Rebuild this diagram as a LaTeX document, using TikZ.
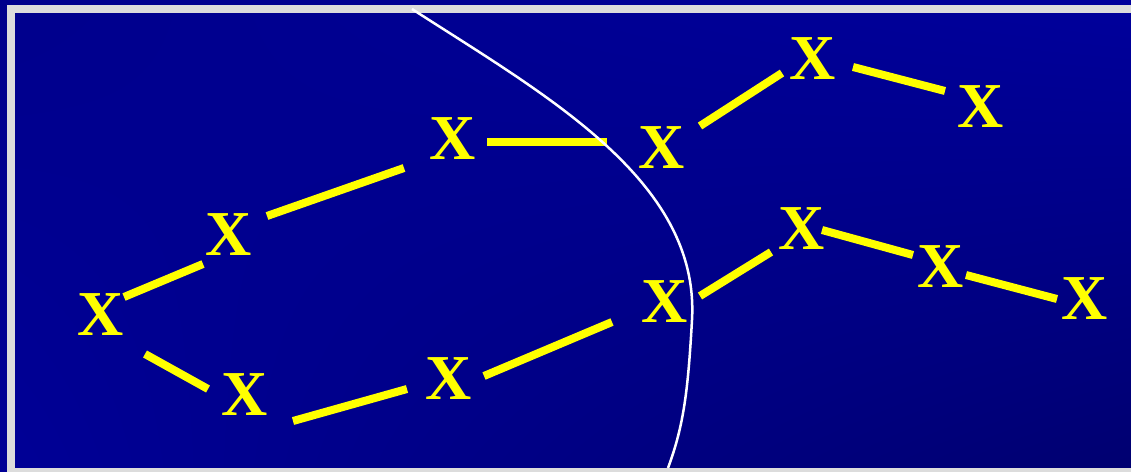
\documentclass[tikz,border=0pt]{standalone}
\usepackage{fontspec}
\setmainfont{Liberation Serif}
\usetikzlibrary{calc,shadings}
\definecolor{bgA}{RGB}{0,0,140}
\definecolor{bgB}{RGB}{0,0,156}
\definecolor{bgC}{RGB}{0,0,150}
\definecolor{bgD}{RGB}{0,0,112}
\definecolor{framegrey}{RGB}{220,220,220}
\definecolor{xyellow}{RGB}{255,255,0}
\tikzset{
  xnode/.style={text=xyellow, font=\fontsize{64}{64}\selectfont\bfseries, inner sep=0pt},
  link/.style={draw=xyellow, line width=8pt},
  border/.style={framegrey, line width=8pt},
  cut/.style={white, line width=2.5pt}
}
\begin{document}
\begin{tikzpicture}[x=1pt,y=-1pt]
\useasboundingbox (0,0) rectangle (1131,471);
\shade[upper left=bgA, upper right=bgB, lower left=bgC, lower right=bgD] (0,0) rectangle (1131,471);
\draw[border] (11,9) rectangle (1145,472);

\node[xnode] (x1) at (101,315) {X};
\node[xnode] (x2) at (229,235) {X};
\node[xnode] (x3) at (453,139) {X};
\node[xnode] (x4) at (662,148) {X};
\node[xnode] (x5) at (813,58.5) {X};
\node[xnode] (x6) at (981,106.5) {X};
\node[xnode] (x7) at (245,395) {X};
\node[xnode] (x8) at (449,379) {X};
\node[xnode] (x9) at (665,302) {X};
\node[xnode] (x10) at (801.5,228.5) {X};
\node[xnode] (x11) at (941,267) {X};
\node[xnode] (x12) at (1085,299) {X};

\draw[link] ($(x1)+(23,-18)$) -- ($(x2)+(-26,29)$);
\draw[link] ($(x2)+(38,-19)$) -- ($(x3)+(-49,29)$);
\draw[link] ($(x3)+(34,3)$) -- ($(x4)+(-55,-6)$);
\draw[link] ($(x4)+(38,-22)$) -- ($(x5)+(-31,14.5)$);
\draw[link] ($(x5)+(40,8.5)$) -- ($(x6)+(-36,-15.5)$);
\draw[link] ($(x1)+(44,39)$) -- ($(x7)+(-37,-6)$);
\draw[link] ($(x7)+(48,26)$) -- ($(x8)+(-42,10)$);
\draw[link] ($(x8)+(35,-3)$) -- ($(x9)+(-53,20)$);
\draw[link] ($(x9)+(35,-6)$) -- ($(x10)+(-30.5,23.5)$);
\draw[link] ($(x10)+(20.5,1.5)$) -- ($(x11)+(-28,-12)$);
\draw[link] ($(x11)+(25,8)$) -- ($(x12)+(-28,0)$);

\draw[cut] (412,9) .. controls (545,95) and (700,180) .. (692,320)
  .. controls (688,390) and (684,425) .. (668,468);
\end{tikzpicture}
\end{document}
